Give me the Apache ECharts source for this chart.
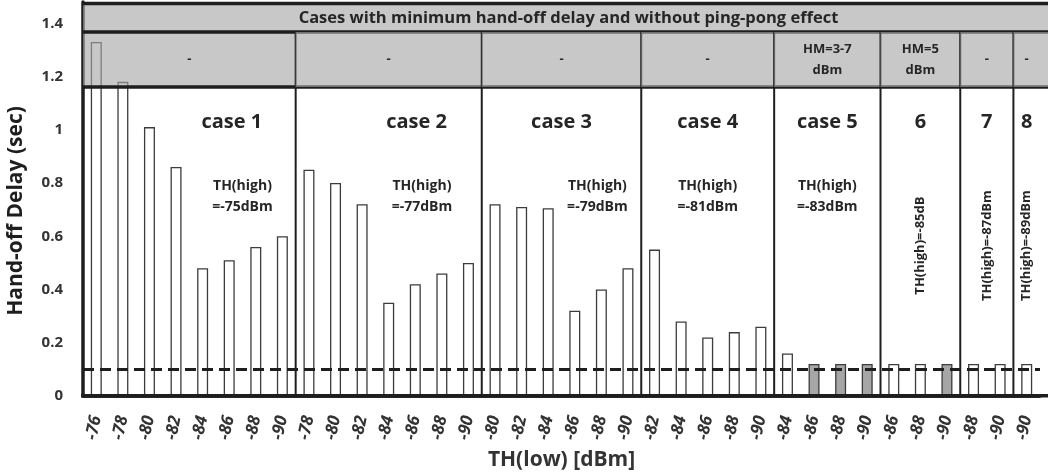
<!DOCTYPE html>
<html>
<head>
<meta charset="utf-8">
<script src="https://cdn.jsdelivr.net/npm/echarts@6/dist/echarts.min.js"></script>
<style>
  html, body { margin: 0; padding: 0; background: #fff; }
  #main { width: 1048px; height: 473px; }
</style>
</head>
<body>
<div id="main"></div>
<script>
// TH(low) values for each bar, grouped by case (8,7,6,5,4,3,2,1 bars)
const categories = [
  '-76', '-78', '-80', '-82', '-84', '-86', '-88', '-90',
  '-78', '-80', '-82', '-84', '-86', '-88', '-90',
  '-80', '-82', '-84', '-86', '-88', '-90',
  '-82', '-84', '-86', '-88', '-90',
  '-84', '-86', '-88', '-90',
  '-86', '-88', '-90',
  '-88', '-90',
  '-90'
];
// hand-off delay (sec)
const delays = [
  1.33, 1.18, 1.01, 0.86, 0.48, 0.51, 0.56, 0.60,
  0.85, 0.80, 0.72, 0.35, 0.42, 0.46, 0.50,
  0.72, 0.71, 0.705, 0.32, 0.40, 0.48,
  0.55, 0.28, 0.22, 0.24, 0.26,
  0.16, 0.12, 0.12, 0.12,
  0.12, 0.12, 0.12,
  0.12, 0.12,
  0.12
];
// 1 = minimum delay without ping-pong (gray bar)
const best = [
  0, 0, 0, 0, 0, 0, 0, 0,
  0, 0, 0, 0, 0, 0, 0,
  0, 0, 0, 0, 0, 0,
  0, 0, 0, 0, 0,
  0, 1, 1, 1,
  0, 0, 1,
  0, 0,
  0
];
const caseNames = ['case 1', 'case 2', 'case 3', 'case 4', 'case 5', '6', '7', '8'];
const caseSizes = [8, 7, 6, 5, 4, 3, 2, 1];
const hmLabels = ['-', '-', '-', '-', 'HM=3-7\ndBm', 'HM=5\ndBm', '-', '-'];
const thHigh = ['TH(high)\n=-75dBm', 'TH(high)\n=-77dBm', 'TH(high)\n=-79dBm', 'TH(high)\n=-81dBm',
  'TH(high)\n=-83dBm', 'TH(high)=-85dB', 'TH(high)=-87dBm', 'TH(high)=-89dBm'];
const threshold = 0.105;
const headerTitle = 'Cases with minimum hand-off delay and without ping-pong effect';

// layout helpers (not data)
const yMax = 1.48, yMid = 1.367, yLow = 1.161;
const caseShift = [1.6, 1.05, 0, 0, 0, 0, 0, 0];
const thShift = [2.0, 1.25, 1.35, 0, 0, 0, 0, 0];
const FONT = '"Open Sans", sans-serif';
const INK = '#1e1e1e';
const TXT = '#262626';

const starts = [];
caseSizes.reduce((acc, n) => { starts.push(acc); return acc + n; }, 0);

const chart = echarts.init(document.getElementById('main'));

function renderCase(params, api) {
  const i = params.dataIndex;
  const s = starts[i], e = s + caseSizes[i];
  const mid = (s + e) / 2;
  const children = [];
  const pTopL = api.coord([s, yMid]);
  const pLowR = api.coord([e, yLow]);
  // second header row cell
  children.push({
    type: 'rect',
    shape: { x: pTopL[0], y: pTopL[1], width: pLowR[0] - pTopL[0] + (i === caseNames.length - 1 ? 8 : 0), height: pLowR[1] - pTopL[1] },
    style: { fill: 'rgba(167,167,167,0.62)' }
  });
  if (i === 0) {
    const a = api.coord([0, yMax]);
    const b = api.coord([36, yMid]);
    children.push({
      type: 'rect',
      shape: { x: a[0], y: a[1], width: b[0] - a[0] + 8, height: b[1] - a[1] },
      style: { fill: 'rgba(167,167,167,0.62)' }
    });
    children.push({
      type: 'text',
      x: (a[0] + b[0]) / 2 + 7, y: (a[1] + b[1]) / 2 + 1,
      style: { text: headerTitle, align: 'center', verticalAlign: 'middle',
        font: 'bold 16.5px ' + FONT, fill: TXT }
    });
    [yMax, yMid, yLow].forEach(function (v, k) {
      const l = api.coord([0, v]);
      const r = api.coord([36, v]);
      children.push({
        type: 'line',
        shape: { x1: l[0], y1: l[1] + (k === 0 ? 1.5 : 0), x2: r[0] + 8, y2: r[1] + (k === 0 ? 1.5 : 0) },
        style: { stroke: INK, lineWidth: 3.5 }
      });
    });
    // x axis base line
    const z0 = api.coord([0, 0]);
    const z1 = api.coord([36, 0]);
    children.push({
      type: 'rect',
      shape: { x: z0[0] - 2, y: z0[1] - 2, width: z1[0] - z0[0] + 10, height: 3.5 },
      style: { fill: INK }
    });
  }
  // separator after the case
  if (i < caseNames.length - 1) {
    const b0 = api.coord([e, 0]);
    const b1 = api.coord([e, yMid]);
    children.push({
      type: 'line',
      shape: { x1: b0[0], y1: b0[1], x2: b1[0], y2: b1[1] },
      style: { stroke: INK, lineWidth: 2 }
    });
  }
  // HM label
  const hm = api.coord([mid, (yMid + yLow) / 2]);
  children.push({
    type: 'text', x: hm[0], y: hm[1],
    style: { text: hmLabels[i], align: 'center', verticalAlign: 'middle',
      font: 'bold 13px ' + FONT, fill: TXT, lineHeight: 21 }
  });
  // case label
  const cp = api.coord([mid + caseShift[i], 1.03]);
  children.push({
    type: 'text', x: cp[0], y: cp[1],
    style: { text: caseNames[i], align: 'center', verticalAlign: 'middle',
      font: 'bold 20px ' + FONT, fill: TXT }
  });
  // TH(high) label
  if (i < 5) {
    const tp = api.coord([mid + thShift[i], 0.75]);
    children.push({
      type: 'text', x: tp[0], y: tp[1],
      style: { text: thHigh[i], align: 'center', verticalAlign: 'middle',
        font: 'bold 14px ' + FONT, fill: TXT, lineHeight: 21 }
    });
  } else {
    const tp = api.coord([mid, 0.565]);
    children.push({
      type: 'text', x: tp[0], y: tp[1], rotation: Math.PI / 2,
      style: { text: thHigh[i], align: 'center', verticalAlign: 'middle',
        font: 'bold 13px ' + FONT, fill: TXT }
    });
  }
  return { type: 'group', children: children };
}

const option = {
  backgroundColor: '#fff',
  animation: false,
  textStyle: { fontFamily: FONT },
  grid: { left: 83, right: 8, top: 2, bottom: 77, outerBoundsMode: 'none', containLabel: false },
  xAxis: [{
    type: 'category',
    data: categories,
    name: 'TH(low) [dBm]',
    nameLocation: 'middle',
    nameGap: 52,
    nameTextStyle: { fontSize: 21, fontWeight: 'bold', color: '#333', fontFamily: FONT },
    axisLine: { show: true, onZero: false, lineStyle: { color: INK, width: 3.5 } },
    axisTick: { length: 6, lineStyle: { color: '#999' } },
    axisLabel: { rotate: 78, fontSize: 17, fontWeight: 'bold', color: '#333', margin: 20, interval: 0,
      fontStyle: 'italic', fontFamily: FONT }
  }, {
    type: 'value', min: 0, max: 36, show: false
  }],
  yAxis: {
    type: 'value',
    min: 0, max: yMax, interval: 0.2,
    name: 'Hand-off Delay (sec)',
    nameLocation: 'middle',
    nameGap: 56,
    nameTextStyle: { fontSize: 21, fontWeight: 'bold', color: INK, fontFamily: FONT, padding: [0, 0, 0, -24] },
    axisLine: { show: true, onZero: false, lineStyle: { color: INK, width: 3.5 } },
    axisTick: { show: false },
    splitLine: { show: false },
    axisLabel: { fontSize: 15, fontWeight: 'bold', color: '#333', margin: 20, showMaxLabel: false,
      formatter: function (v) { return String(+v.toFixed(1)); } }
  },
  series: [{
    type: 'bar',
    data: delays.map(function (v, i) {
      return { value: v, itemStyle: { color: best[i] ? '#a6a6a6' : '#ffffff' } };
    }),
    barWidth: 11,
    itemStyle: { borderColor: '#3c3c3c', borderWidth: 1.3 },
    markLine: {
      symbol: 'none', silent: true, z: 5,
      label: { show: false },
      lineStyle: { color: INK, width: 3, type: [11, 6] },
      data: [
        { yAxis: threshold },
        { yAxis: 0, lineStyle: { type: 'solid', width: 3.5, color: INK } }
      ]
    }
  }, {
    type: 'custom',
    xAxisIndex: 1,
    yAxisIndex: 0,
    z: 4,
    silent: true,
    clip: false,
    data: caseNames.map(function (n, i) { return [i, 0]; }),
    renderItem: renderCase
  }]
};
chart.setOption(option);
</script>
</body>
</html>
